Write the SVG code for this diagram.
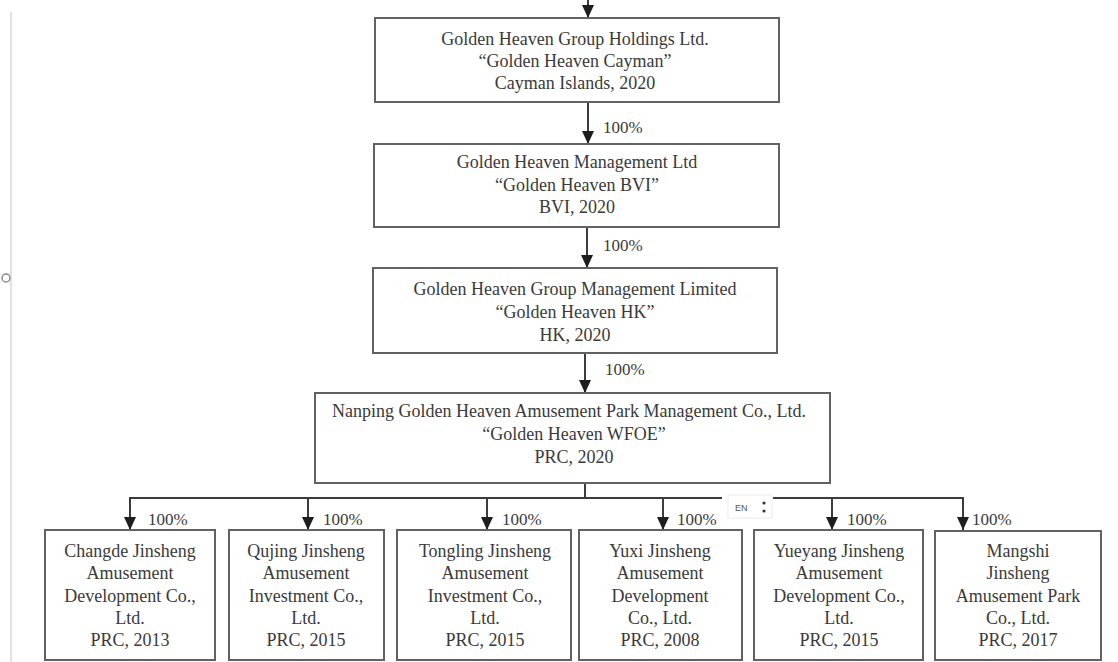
<svg xmlns="http://www.w3.org/2000/svg" width="1118" height="662" viewBox="0 0 1118 662">
  <style>
    .box { fill: #ffffff; stroke: #626262; stroke-width: 2; }
    .t { font-family: "Liberation Serif", "Times New Roman", serif; font-size: 18px; fill: #3a3a3a; text-anchor: middle; }
    .pct { font-family: "Liberation Serif", "Times New Roman", serif; font-size: 17px; fill: #3a3a3a; }
    .ln { fill: none; stroke: #3c3c3c; stroke-width: 2; }
  </style>
  <defs>
    <marker id="ah" viewBox="0 0 13 12" refX="13" refY="6" markerWidth="13" markerHeight="12" markerUnits="userSpaceOnUse" orient="auto">
      <path d="M0,0 L13,6 L0,12 z" fill="#1e1e1e"/>
    </marker>
  </defs>
  <rect width="1118" height="662" fill="#ffffff"/>

  <!-- page edge artifacts -->
  <g id="page-edge">
    <line x1="11" y1="12" x2="11" y2="662" stroke="#e2e2e2" stroke-width="2"/>
    <circle cx="6" cy="278" r="4" fill="none" stroke="#8a8a8a" stroke-width="1.5"/>
  </g>

  <g id="connectors">
    <line class="ln" x1="588" y1="0" x2="588" y2="18" marker-end="url(#ah)"/>
    <line class="ln" x1="588" y1="102" x2="588" y2="144" marker-end="url(#ah)"/>
    <line class="ln" x1="587" y1="227" x2="587" y2="268" marker-end="url(#ah)"/>
    <line class="ln" x1="585" y1="353" x2="585" y2="393" marker-end="url(#ah)"/>
    <line class="ln" x1="585" y1="483" x2="585" y2="498"/>
    <line class="ln" x1="129" y1="498" x2="964" y2="498"/>
    <line class="ln" x1="130" y1="498" x2="130" y2="530" marker-end="url(#ah)"/>
    <line class="ln" x1="308" y1="498" x2="308" y2="530" marker-end="url(#ah)"/>
    <line class="ln" x1="487" y1="498" x2="487" y2="530" marker-end="url(#ah)"/>
    <line class="ln" x1="663" y1="498" x2="663" y2="530" marker-end="url(#ah)"/>
    <line class="ln" x1="832" y1="498" x2="832" y2="530" marker-end="url(#ah)"/>
    <line class="ln" x1="963" y1="498" x2="963" y2="530" marker-end="url(#ah)"/>
    <text class="pct" x="603" y="133">100%</text>
    <text class="pct" x="603" y="251">100%</text>
    <text class="pct" x="605" y="375">100%</text>
    <text class="pct" x="148" y="525">100%</text>
    <text class="pct" x="323" y="525">100%</text>
    <text class="pct" x="502" y="525">100%</text>
    <text class="pct" x="677" y="525">100%</text>
    <text class="pct" x="847" y="525">100%</text>
    <text class="pct" x="972" y="525">100%</text>
  </g>

  <g id="cayman">
    <rect class="box" x="375" y="18" width="404" height="84"/>
    <text class="t" x="575" y="45">Golden Heaven Group Holdings Ltd.</text>
    <text class="t" x="575" y="67">“Golden Heaven Cayman”</text>
    <text class="t" x="575" y="89">Cayman Islands, 2020</text>
  </g>

  <g id="bvi">
    <rect class="box" x="374" y="144" width="405" height="83"/>
    <text class="t" x="577" y="168">Golden Heaven Management Ltd</text>
    <text class="t" x="577" y="191">“Golden Heaven BVI”</text>
    <text class="t" x="577" y="213">BVI, 2020</text>
  </g>

  <g id="hk">
    <rect class="box" x="373" y="268" width="404" height="85"/>
    <text class="t" x="575" y="295">Golden Heaven Group Management Limited</text>
    <text class="t" x="575" y="318">“Golden Heaven HK”</text>
    <text class="t" x="575" y="341">HK, 2020</text>
  </g>

  <g id="wfoe">
    <rect class="box" x="315" y="393" width="515" height="90"/>
    <text class="t" x="569" y="417">Nanping Golden Heaven Amusement Park Management Co., Ltd.</text>
    <text class="t" x="574" y="440">“Golden Heaven WFOE”</text>
    <text class="t" x="574" y="463">PRC, 2020</text>
  </g>

  <g id="changde">
    <rect class="box" x="45" y="530" width="170" height="130"/>
    <text class="t" x="130" y="557">Changde Jinsheng</text>
    <text class="t" x="130" y="579">Amusement</text>
    <text class="t" x="130" y="602">Development Co.,</text>
    <text class="t" x="130" y="624">Ltd.</text>
    <text class="t" x="130" y="646">PRC, 2013</text>
  </g>

  <g id="qujing">
    <rect class="box" x="229" y="530" width="155" height="130"/>
    <text class="t" x="306" y="557">Qujing Jinsheng</text>
    <text class="t" x="306" y="579">Amusement</text>
    <text class="t" x="306" y="602">Investment Co.,</text>
    <text class="t" x="306" y="624">Ltd.</text>
    <text class="t" x="306" y="646">PRC, 2015</text>
  </g>

  <g id="tongling">
    <rect class="box" x="397" y="530" width="174" height="130"/>
    <text class="t" x="485" y="557">Tongling Jinsheng</text>
    <text class="t" x="485" y="579">Amusement</text>
    <text class="t" x="485" y="602">Investment Co.,</text>
    <text class="t" x="485" y="624">Ltd.</text>
    <text class="t" x="485" y="646">PRC, 2015</text>
  </g>

  <g id="yuxi">
    <rect class="box" x="579" y="530" width="163" height="130"/>
    <text class="t" x="660" y="557">Yuxi Jinsheng</text>
    <text class="t" x="660" y="579">Amusement</text>
    <text class="t" x="660" y="602">Development</text>
    <text class="t" x="660" y="624">Co., Ltd.</text>
    <text class="t" x="660" y="646">PRC, 2008</text>
  </g>

  <g id="yueyang">
    <rect class="box" x="754" y="530" width="169" height="130"/>
    <text class="t" x="839" y="557">Yueyang Jinsheng</text>
    <text class="t" x="839" y="579">Amusement</text>
    <text class="t" x="839" y="602">Development Co.,</text>
    <text class="t" x="839" y="624">Ltd.</text>
    <text class="t" x="839" y="646">PRC, 2015</text>
  </g>

  <g id="mangshi">
    <rect class="box" x="935" y="531" width="166" height="129"/>
    <text class="t" x="1018" y="557">Mangshi</text>
    <text class="t" x="1018" y="579">Jinsheng</text>
    <text class="t" x="1018" y="602">Amusement Park</text>
    <text class="t" x="1018" y="624">Co., Ltd.</text>
    <text class="t" x="1018" y="646">PRC, 2017</text>
  </g>

  <g id="en-widget">
    <rect x="722" y="490" width="51" height="30" fill="#ffffff"/>
    <rect x="728" y="495" width="44" height="23" fill="#ffffff" stroke="#ececec" stroke-width="1"/>
    <text x="735" y="511" font-family="Liberation Sans, Arial, sans-serif" font-size="9" fill="#555555">EN</text>
    <circle cx="764" cy="503" r="1.6" fill="#333333"/>
    <circle cx="764" cy="511" r="1.6" fill="#333333"/>
  </g>
</svg>
